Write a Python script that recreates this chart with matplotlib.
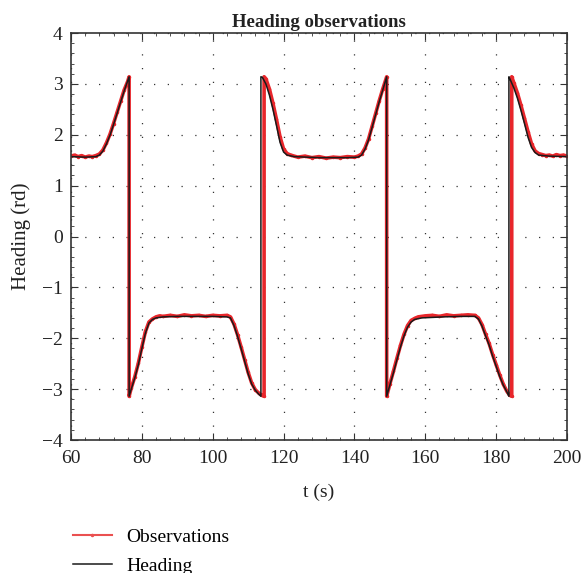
import matplotlib
matplotlib.use("Agg")
import matplotlib.pyplot as plt
from matplotlib.ticker import MultipleLocator

# heading (true)
heading_t = [60, 64, 67, 68, 69, 70, 71, 72, 73, 74, 75, 76.4,
             76.4, 77, 78, 79, 80, 81, 82, 83, 84, 86, 90, 95, 100, 104,
             105, 106, 107, 108, 109, 110, 111, 112, 113, 113.6,
             113.6, 114, 115, 116, 117, 118, 119, 120, 121, 123, 130, 138,
             141, 142, 143, 144, 145, 146, 147, 148, 149.1,
             149.1, 150, 151, 152, 153, 154, 155, 156, 157, 159, 165, 170,
             174, 175, 176, 177, 178, 179, 180, 181, 182, 183, 183.6,
             183.6, 184, 185, 186, 187, 188, 189, 190, 191, 192, 195, 200]
heading_v = [1.57, 1.56, 1.57, 1.60, 1.68, 1.82, 1.99, 2.20, 2.42, 2.64, 2.86, 3.14,
             -3.14, -3.00, -2.78, -2.52, -2.20, -1.90, -1.70, -1.63, -1.60, -1.58, -1.57, -1.57, -1.57, -1.58,
             -1.60, -1.75, -1.96, -2.20, -2.45, -2.70, -2.90, -3.02, -3.10, -3.14,
             3.14, 3.13, 3.00, 2.78, 2.50, 2.18, 1.85, 1.66, 1.60, 1.57, 1.55, 1.55,
             1.56, 1.60, 1.72, 1.90, 2.15, 2.40, 2.65, 2.88, 3.14,
             -3.14, -2.92, -2.68, -2.42, -2.17, -1.95, -1.78, -1.68, -1.63, -1.60, -1.58, -1.57,
             -1.57, -1.62, -1.76, -1.95, -2.13, -2.35, -2.55, -2.75, -2.92, -3.05, -3.14,
             3.14, 3.08, 2.92, 2.72, 2.48, 2.22, 1.95, 1.75, 1.65, 1.60, 1.58, 1.57]

# noisy observations
obs_t = [60, 61, 62, 63, 64, 65, 66, 67, 68, 69, 70, 71, 72, 73, 74, 75, 76, 76.4,
         76.4, 77, 78, 79, 80, 81, 82, 83, 84, 85, 86, 88, 90, 92, 94, 96, 98, 100, 102, 104,
         105, 106, 107, 108, 109, 110, 111, 112, 113, 113.8, 114.5,
         114.5, 115, 116, 117, 118, 119, 120, 121, 122, 124, 126, 128, 130, 132, 134, 136, 138, 140,
         141, 142, 143, 144, 145, 146, 147, 148, 149.1,
         149.1, 150, 151, 152, 153, 154, 155, 156, 157, 158, 160, 162, 164, 166, 168, 170, 172, 174,
         175, 176, 177, 178, 179, 180, 181, 182, 183, 183.8, 184.4,
         184.4, 185, 186, 187, 188, 189, 190, 191, 192, 193, 194, 195, 196, 197, 198, 199, 200]
obs_v = [1.58, 1.60, 1.57, 1.59, 1.56, 1.58, 1.57, 1.59, 1.62, 1.70, 1.84, 2.01, 2.22, 2.44, 2.66, 2.88, 3.05, 3.14,
         -3.14, -2.98, -2.76, -2.49, -2.17, -1.87, -1.68, -1.62, -1.58, -1.56, -1.57, -1.55, -1.57, -1.54, -1.56, -1.55, -1.57, -1.55, -1.56, -1.55,
         -1.58, -1.72, -1.93, -2.17, -2.42, -2.67, -2.88, -3.01, -3.08, -3.12, -3.14,
         3.14, 3.10, 2.90, 2.62, 2.30, 1.96, 1.72, 1.63, 1.60, 1.56, 1.58, 1.55, 1.57, 1.54, 1.56, 1.55, 1.57, 1.56,
         1.58, 1.62, 1.74, 1.92, 2.17, 2.42, 2.67, 2.90, 3.14,
         -3.14, -2.90, -2.65, -2.39, -2.14, -1.92, -1.75, -1.65, -1.61, -1.58, -1.56, -1.55, -1.57, -1.54, -1.56, -1.55, -1.54, -1.55,
         -1.60, -1.73, -1.92, -2.10, -2.32, -2.52, -2.72, -2.90, -3.04, -3.12, -3.14,
         3.14, 3.02, 2.82, 2.58, 2.32, 2.06, 1.82, 1.68, 1.63, 1.61, 1.59, 1.60, 1.58, 1.61, 1.59, 1.60, 1.58]

x_ticks = [60, 80, 100, 120, 140, 160, 180, 200]
y_ticks = [-4, -3, -2, -1, 0, 1, 2, 3, 4]

plt.rcParams['font.family'] = ['Liberation Serif', 'DejaVu Serif']
plt.rcParams['font.size'] = 14
plt.rcParams['axes.unicode_minus'] = True

fig = plt.figure(figsize=(5.84, 5.73), dpi=100)
ax = fig.add_axes([0.1216, 0.2321, 0.8493, 0.7103])

ax.plot(obs_t, obs_v, color='#e8262b', linewidth=2.6, marker='.', markersize=3,
        label='Observations', solid_joinstyle='round')
ax.plot(heading_t, heading_v, color='#1a1a1a', linewidth=1.1, label='Heading')

ax.set_xlim(60, 200)
ax.set_ylim(-4, 4)
ax.set_xticks(x_ticks)
ax.set_yticks(y_ticks)
ax.xaxis.set_minor_locator(MultipleLocator(4))
ax.yaxis.set_minor_locator(MultipleLocator(0.2))
ax.tick_params(which='both', direction='in', top=True, right=True, colors='#333333',
               labelcolor='#222222', pad=6)
ax.tick_params(axis='x', which='both', pad=7.5)
ax.tick_params(which='major', length=5)
ax.tick_params(which='minor', length=2.5)
ax.grid(True, which='major', linestyle=(0, (1, 10)), color='#333333', linewidth=0.9)
for s in ax.spines.values():
    s.set_color('#333333')
    s.set_linewidth(1.2)

ax.set_title('Heading observations', fontweight='bold', fontsize=13.5, pad=4, color='#222222')
ax.set_xlabel('t (s)', color='#222222', labelpad=12)
ax.set_ylabel('Heading (rd)', color='#222222', labelpad=8, fontsize=15)

leg = fig.legend(loc='upper left', bbox_to_anchor=(0.095, 0.108), frameon=False,
                 handlelength=2.0, handletextpad=0.75, labelspacing=0.55, fontsize=14)
leg.legend_handles[0].set_linewidth(1.5)
leg.legend_handles[0].set_color('#ea5050')

fig.savefig('out.png', dpi=100)
